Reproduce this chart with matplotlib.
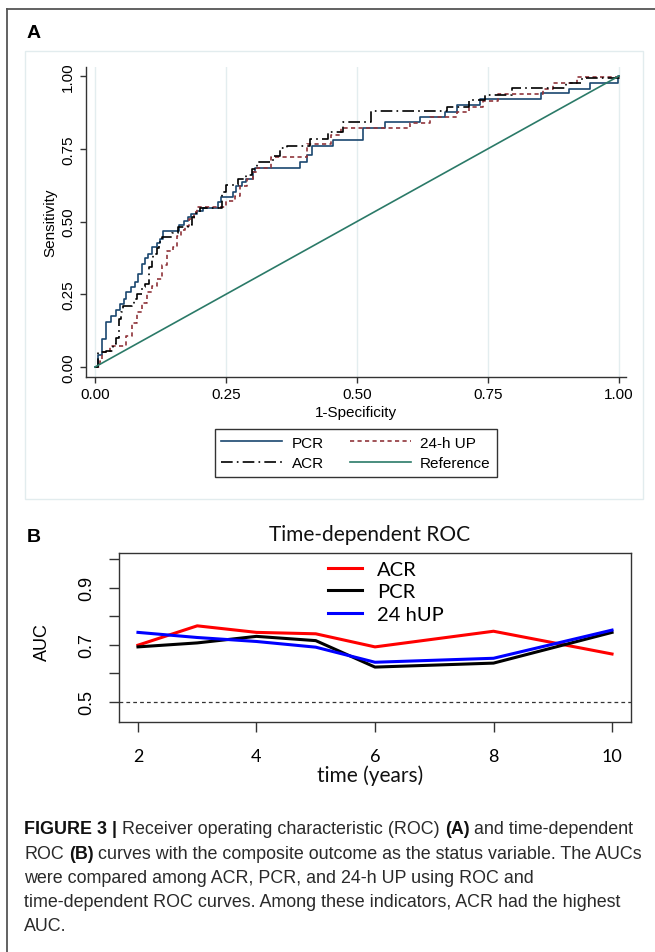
import numpy as np
import matplotlib
matplotlib.use("Agg")
import matplotlib.pyplot as plt
from matplotlib.lines import Line2D
from matplotlib.patches import Rectangle

plt.rcParams['font.family'] = ['Liberation Sans', 'DejaVu Sans']

# ---- panel A: ROC step curves (1-specificity, sensitivity)
pcr_fpr = [0, 0.005, 0.013, 0.021, 0.030, 0.040, 0.048, 0.055, 0.060, 0.068,
           0.076, 0.082, 0.089, 0.095, 0.102, 0.108, 0.118, 0.124, 0.130, 0.160,
           0.169, 0.177, 0.184, 0.195, 0.207, 0.235, 0.241, 0.264, 0.270, 0.280,
           0.289, 0.302, 0.305, 0.391, 0.405, 0.414, 0.455, 0.512, 0.553, 0.620,
           0.668, 0.690, 0.735, 0.852, 0.905, 0.945, 0.998, 1.0]
pcr_tpr = [0, 0.040, 0.096, 0.154, 0.176, 0.196, 0.216, 0.235, 0.257, 0.275,
           0.291, 0.320, 0.354, 0.375, 0.390, 0.411, 0.425, 0.440, 0.469, 0.487,
           0.503, 0.515, 0.526, 0.535, 0.545, 0.566, 0.583, 0.600, 0.623, 0.635,
           0.646, 0.669, 0.683, 0.706, 0.730, 0.761, 0.781, 0.820, 0.841, 0.858,
           0.878, 0.901, 0.921, 0.940, 0.957, 0.975, 1.0, 1.0]

acr_fpr = [0, 0.006, 0.021, 0.035, 0.040, 0.045, 0.050, 0.054, 0.070, 0.075,
           0.080, 0.089, 0.096, 0.104, 0.108, 0.111, 0.118, 0.122, 0.127, 0.146,
           0.159, 0.178, 0.185, 0.193, 0.200, 0.242, 0.250, 0.273, 0.289, 0.300,
           0.309, 0.340, 0.353, 0.366, 0.410, 0.445, 0.473, 0.526, 0.671, 0.713,
           0.745, 0.795, 0.899, 0.930, 1.0]
acr_tpr = [0, 0.050, 0.056, 0.079, 0.100, 0.165, 0.190, 0.211, 0.214, 0.235,
           0.251, 0.274, 0.285, 0.343, 0.370, 0.388, 0.410, 0.430, 0.446, 0.460,
           0.480, 0.489, 0.514, 0.530, 0.545, 0.600, 0.625, 0.646, 0.660, 0.680,
           0.706, 0.725, 0.752, 0.761, 0.784, 0.806, 0.843, 0.881, 0.895, 0.916,
           0.936, 0.959, 0.976, 0.994, 1.0]

up_fpr = [0, 0.0095, 0.0127, 0.029, 0.060, 0.070, 0.080, 0.090, 0.099, 0.108,
          0.118, 0.128, 0.137, 0.149, 0.156, 0.165, 0.172, 0.180, 0.188, 0.194,
          0.250, 0.267, 0.277, 0.290, 0.302, 0.309, 0.336, 0.405, 0.451, 0.470,
          0.601, 0.640, 0.690, 0.713, 0.740, 0.770, 0.855, 0.874, 0.920, 1.0]
up_tpr = [0, 0.022, 0.050, 0.073, 0.108, 0.150, 0.188, 0.220, 0.257, 0.280,
          0.302, 0.350, 0.400, 0.411, 0.451, 0.470, 0.486, 0.510, 0.532, 0.549,
          0.570, 0.589, 0.623, 0.646, 0.669, 0.683, 0.720, 0.767, 0.796, 0.820,
          0.840, 0.858, 0.878, 0.895, 0.915, 0.938, 0.956, 0.977, 0.998, 1.0]

roc_ticks = [0, 0.25, 0.5, 0.75, 1.0]
roc_ticklabels = ['0.00', '0.25', '0.50', '0.75', '1.00']

# ---- panel B: time-dependent AUC
years = [2, 3, 4, 5, 6, 8, 10]
acr_auc = [0.698, 0.766, 0.743, 0.738, 0.692, 0.747, 0.667]
pcr_auc = [0.692, 0.706, 0.729, 0.714, 0.621, 0.635, 0.743]
up_auc = [0.743, 0.725, 0.711, 0.691, 0.638, 0.652, 0.751]

caption = [
    [('FIGURE 3 |', True), ('Receiver operating characteristic (ROC)', False),
     ('(A)', True), ('and time-dependent', False)],
    [('ROC', False), ('(B)', True),
     ('curves with the composite outcome as the status variable. The AUCs', False)],
    [('were compared among ACR, PCR, and 24-h UP using ROC and', False)],
    [('time-dependent ROC curves. Among these indicators, ACR had the highest', False)],
    [('AUC.', False)],
]

W, H = 655, 953
fig = plt.figure(figsize=(W / 100, H / 100), dpi=100)


def px_box(l, t, r, b):
    return [l / W, 1 - b / H, (r - l) / W, (b - t) / H]


# page frame (left and top edges of the figure box)
fig.add_artist(Line2D([7 / W, 7 / W], [0, 1 - 10 / H], transform=fig.transFigure,
                      color='#555555', lw=1.3))
fig.add_artist(Line2D([7 / W, 1], [1 - 10 / H, 1 - 10 / H], transform=fig.transFigure,
                      color='#555555', lw=1.3))
# faint Stata graph region
fig.add_artist(Rectangle((25 / W, 1 - 500 / H), 618 / W, 448 / H, transform=fig.transFigure,
                         fill=False, ec='#e2ecee', lw=1))

fig.text(27 / W, 1 - 33 / H, 'A', fontsize=14, fontweight='bold', ha='left', va='center')
fig.text(27 / W, 1 - 538 / H, 'B', fontsize=14, fontweight='bold', ha='left', va='center')

# ---------------- panel A
axA = fig.add_axes(px_box(86, 68, 626, 378))
axA.plot(pcr_fpr, pcr_tpr, drawstyle='steps-post', color='#1a476f', lw=1.2, label='PCR')
axA.plot(up_fpr, up_tpr, drawstyle='steps-post', color='#90353b', lw=1.2,
         dashes=(2.5, 2), label='24-h UP')
axA.plot(acr_fpr, acr_tpr, drawstyle='steps-post', color='black', lw=1.2,
         dashes=(7, 2.5, 1, 2.5), label='ACR')
axA.plot([0, 1], [0, 1], color='#2b7a68', lw=1.2, label='Reference')

axA.set_xlim(-9 / 524, 531 / 524)
axA.set_ylim(-10 / 291, 300 / 291)
axA.set_xticks(roc_ticks)
axA.set_xticklabels(roc_ticklabels)
axA.set_yticks(roc_ticks)
axA.set_yticklabels(roc_ticklabels, rotation=90, va='center')
axA.tick_params(direction='out', length=4, width=1, color='#333333', labelsize=11, pad=3)
axA.tick_params(axis='y', pad=4)
for s in ['top', 'right']:
    axA.spines[s].set_visible(False)
for s in ['left', 'bottom']:
    axA.spines[s].set_color('#333333')
    axA.spines[s].set_linewidth(1)
axA.xaxis.grid(True, color='#e3edef', lw=1)
axA.set_axisbelow(True)
axA.set_xlabel('1-Specificity', fontsize=11, va='center')
axA.xaxis.set_label_coords(0.5, -(413 - 378) / 310)
axA.set_ylabel('Sensitivity', fontsize=11, va='center', ha='center')
axA.yaxis.set_label_coords(-(86 - 50) / 540, 0.5)

hA, lA = axA.get_legend_handles_labels()
order = [0, 2, 1, 3]
legA = axA.legend([hA[i] for i in order], [lA[i] for i in order], ncol=2,
                  loc='center', bbox_to_anchor=(356 / W, 1 - 454 / H),
                  bbox_transform=fig.transFigure, fontsize=11, frameon=True,
                  fancybox=False, edgecolor='black', handlelength=4.0,
                  handletextpad=0.6, columnspacing=1.7, labelspacing=0.45,
                  borderpad=0.42, borderaxespad=0)
legA.get_frame().set_linewidth(1)

# ---------------- panel B
axB = fig.add_axes(px_box(119, 554, 631, 723))
axB.plot(years, acr_auc, color='#ff0000', lw=2.2, label='ACR')
axB.plot(years, pcr_auc, color='black', lw=2.2, label='PCR')
axB.plot(years, up_auc, color='#0000ff', lw=2.2, label='24 hUP')
axB.axhline(0.5, color='#333333', lw=0.9, dashes=(3, 2.5))
axB.set_xlim(2 - 0.32, 10 + 0.32)
axB.set_ylim(0.45 - 0.022, 1.0 + 0.022)
axB.set_xticks([2, 4, 6, 8, 10])
axB.set_yticks([0.5, 0.6, 0.7, 0.8, 0.9, 1.0])
axB.set_yticklabels(['0.5', '', '0.7', '', '0.9', ''], rotation=90, va='center',
                    fontsize=13)
for lab in axB.get_xticklabels():
    lab.set_family('Lato')
    lab.set_fontsize(13)
axB.tick_params(direction='out', length=7, width=1, color='#333333')
axB.tick_params(axis='x', pad=12)
axB.tick_params(axis='y', pad=10)
for s in axB.spines.values():
    s.set_color('#333333')
    s.set_linewidth(1)
fig.text(370 / W, 1 - 535 / H, 'Time-dependent ROC', family='Lato', fontsize=15,
         ha='center', va='center', color='#111111')
fig.text(370 / W, 1 - 776 / H, 'time (years)', family='Lato', fontsize=15,
         ha='center', va='center', color='#111111')
fig.text(42 / W, 1 - 642 / H, 'AUC', fontsize=13, rotation=90, ha='center', va='center')
axB.legend(loc='upper left', bbox_to_anchor=(328 / W, 1 - 562 / H),
           bbox_transform=fig.transFigure, frameon=False, prop={'family': 'Lato', 'size': 14.5},
           handlelength=1.7, handletextpad=0.75, labelspacing=0.26, borderpad=0,
           borderaxespad=0)

# ---------------- caption (mixed bold / regular)
cap_fs = 12.9
renderer = fig.canvas.get_renderer()


def text_w(s, bold):
    t = fig.text(0, 0, s, fontsize=cap_fs, fontweight='bold' if bold else 'normal')
    w = t.get_window_extent(renderer).width
    t.remove()
    return w


line_y = [830, 855, 879, 903, 927]
for parts, y in zip(caption, line_y):
    x = 24
    for txt, bold in parts:
        fig.text(x / W, 1 - y / H, txt, fontsize=cap_fs, ha='left', va='center',
                 fontweight='bold' if bold else 'normal',
                 color='#111111' if bold else '#2a2a2a')
        # advance = width of segment plus one space, measured in the same weight
        x += text_w(txt + ' x', bold) - text_w('x', bold)

fig.savefig('out.png', dpi=100)
